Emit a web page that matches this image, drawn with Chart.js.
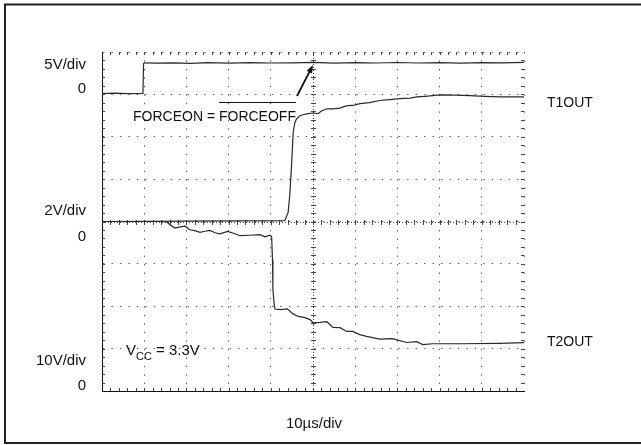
<!DOCTYPE html>
<html>
<head>
<meta charset="utf-8">
<script src="https://cdn.jsdelivr.net/npm/chart.js@4"></script>
<style>
  body { margin: 0; background: #fff; }
  canvas { display: block; }
</style>
</head>
<body>
<canvas id="scope" width="641" height="445"></canvas>
<script>
// time axis in microseconds, 10us per division
const timeForce = [0, 3, 6, 9.7, 9.85, 10.2, 13, 17, 21, 25, 30, 35, 40, 45, 50, 55, 60, 65, 70, 75, 80, 85, 90, 95, 100];
const forceOn   = [0.1, 0.15, 0.1, 0.12, 3.62, 3.72, 3.68, 3.72, 3.66, 3.74, 3.68, 3.75, 3.7, 3.72, 3.78, 3.68, 3.74, 3.7, 3.76, 3.7, 3.74, 3.68, 3.75, 3.72, 3.78];

const timeT1 = [0, 20, 43.3, 44.1, 44.5, 44.9, 45.3, 45.7, 46.1, 46.9, 47.6, 48.8, 50, 51.2, 52.1, 53.3, 54.7, 56.3, 57.9, 59.8, 61.1, 63.4, 65.8, 68.2, 70.6, 73, 74.6, 76.5, 80.1, 83.6, 87.1, 90.7, 94.2, 100];
const t1Out  = [0, 0.02, 0.04, 0.42, 1.26, 2.59, 4.19, 4.66, 4.85, 4.99, 5.04, 5.09, 5.12, 5.09, 5.23, 5.32, 5.32, 5.35, 5.46, 5.49, 5.56, 5.61, 5.71, 5.75, 5.8, 5.82, 5.88, 5.91, 5.98, 5.96, 5.94, 5.91, 5.88, 5.88];

const timeT2 = [0, 13.7, 15.3, 16.1, 17.3, 18.5, 19.7, 20.8, 22, 23.2, 24.4, 25.6, 26.8, 27.9, 29.8, 31.5, 32.7, 35, 37.4, 38.6, 39.8, 40.2, 40.4, 40.5, 40.8, 41, 42.2, 43.9, 45.3, 46.5, 48.1, 49.3, 50, 51.7, 53.3, 54.7, 56.4, 58, 59.4, 61.1, 62.7, 65.8, 68.8, 72.2, 74.6, 76, 78.4, 84.8, 94.2, 100];
const t2Out  = [0, 0, -0.01, -0.15, -0.31, -0.25, -0.22, -0.39, -0.43, -0.51, -0.46, -0.42, -0.53, -0.58, -0.47, -0.58, -0.67, -0.65, -0.62, -0.72, -0.65, -0.72, -1.8, -3.22, -3.93, -4.13, -4.16, -4.12, -4.36, -4.48, -4.54, -4.63, -4.78, -4.76, -4.73, -5, -5.01, -5.19, -5.19, -5.34, -5.42, -5.55, -5.53, -5.71, -5.67, -5.81, -5.77, -5.77, -5.75, -5.72];

const leftLabels = [
  ['5V/div', 65], ['0', 89],
  ['2V/div', 210.5], ['0', 237],
  ['10V/div', 360.5], ['0', 386]
];

const pts = (xs, ys) => xs.map((x, i) => ({x: x, y: ys[i]}));

const ink = '#111';
const font = '15px "Liberation Sans", Arial, sans-serif';
const capsFont = '14px "Liberation Sans", Arial, sans-serif';

const scopeDecor = {
  id: 'scopeDecor',
  beforeDatasetsDraw(chart) {
    const {ctx, chartArea: a, scales} = chart;
    const xs = scales.x, ys = scales.y;
    ctx.save();
    ctx.strokeStyle = '#444';
    ctx.lineWidth = 1;
    // dense centre lines
    ctx.setLineDash([1, 2]);
    const cx = Math.round(xs.getPixelForValue(50)) + 0.5;
    const cy = Math.round(ys.getPixelForValue(4)) + 0.5;
    ctx.beginPath();
    ctx.moveTo(cx, a.top); ctx.lineTo(cx, a.bottom);
    ctx.moveTo(a.left, cy); ctx.lineTo(a.right, cy);
    ctx.stroke();
    ctx.setLineDash([]);
    // minor ticks, 5 per division
    ctx.beginPath();
    for (let i = 1; i < 50; i++) {
      const px = Math.round(xs.getPixelForValue(i * 2)) + 0.5;
      ctx.moveTo(px, a.top); ctx.lineTo(px, a.top + 3);
      ctx.moveTo(px, a.bottom); ctx.lineTo(px, a.bottom - 3);
      ctx.moveTo(px, cy - 2.5); ctx.lineTo(px, cy + 2.5);
    }
    for (let j = 1; j < 40; j++) {
      const py = Math.round(ys.getPixelForValue(j * 0.2)) + 0.5;
      ctx.moveTo(a.left, py); ctx.lineTo(a.left + 3, py);
      ctx.moveTo(a.right, py); ctx.lineTo(a.right - 3, py);
      ctx.moveTo(cx - 2.5, py); ctx.lineTo(cx + 2.5, py);
    }
    ctx.stroke();
    ctx.restore();
  },
  afterDraw(chart) {
    const {ctx, chartArea: a, scales} = chart;
    ctx.save();
    // page frame
    ctx.strokeStyle = '#222';
    ctx.lineWidth = 2;
    ctx.beginPath();
    ctx.moveTo(641, 4.5); ctx.lineTo(5, 4.5); ctx.lineTo(5, 443); ctx.lineTo(641, 443);
    ctx.stroke();

    ctx.fillStyle = ink;
    ctx.font = font;
    ctx.textBaseline = 'middle';
    ctx.textAlign = 'right';
    leftLabels.forEach(([t, y]) => ctx.fillText(t, 86, y));

    ctx.textAlign = 'center';
    ctx.fillText('10\u00b5s/div', 314, 424);

    ctx.font = capsFont;
    ctx.textAlign = 'left';
    ctx.fillText('T1OUT', 547, 103);
    ctx.fillText('T2OUT', 547, 342.5);

    // FORCEON = FORCEOFF (overbar)
    const pre = 'FORCEON = ';
    const x0 = 133, ty = 117;
    ctx.fillText(pre, x0, ty);
    const xb = x0 + ctx.measureText(pre).width;
    ctx.fillText('FORCEOFF', xb, ty);
    const wb = ctx.measureText('FORCEOFF').width;
    ctx.strokeStyle = ink;
    ctx.lineWidth = 1;
    ctx.beginPath();
    ctx.moveTo(xb, 102.5); ctx.lineTo(xb + wb, 102.5);
    ctx.stroke();

    // arrow to the FORCEON trace
    const tipX = scales.x.getPixelForValue(50);
    const tipY = scales.yF.getPixelForValue(3.7) + 2;
    const tailX = 297, tailY = 96;
    const ang = Math.atan2(tipY - tailY, tipX - tailX);
    ctx.lineWidth = 1.8;
    ctx.beginPath();
    ctx.moveTo(tailX, tailY);
    ctx.lineTo(tipX - 5 * Math.cos(ang), tipY - 5 * Math.sin(ang));
    ctx.stroke();
    ctx.beginPath();
    ctx.moveTo(tipX, tipY);
    ctx.lineTo(tipX - 8 * Math.cos(ang) + 3 * Math.sin(ang), tipY - 8 * Math.sin(ang) - 3 * Math.cos(ang));
    ctx.lineTo(tipX - 8 * Math.cos(ang) - 3 * Math.sin(ang), tipY - 8 * Math.sin(ang) + 3 * Math.cos(ang));
    ctx.closePath();
    ctx.fill();

    // VCC = 3.3V
    ctx.font = font;
    let vx = 126;
    ctx.fillText('V', vx, 350.5);
    vx += ctx.measureText('V').width;
    ctx.font = '11px "Liberation Sans", Arial, sans-serif';
    ctx.fillText('CC', vx, 357);
    vx += ctx.measureText('CC').width;
    ctx.font = font;
    ctx.fillText(' = 3.3V', vx, 350.5);
    ctx.restore();
  }
};

const traceStyle = {
  borderColor: '#2a2a2a',
  borderWidth: 1.2,
  pointRadius: 0,
  tension: 0,
  fill: false
};

new Chart(document.getElementById('scope'), {
  type: 'line',
  data: {
    datasets: [
      Object.assign({label: 'FORCEON', data: pts(timeForce, forceOn), yAxisID: 'yF'}, traceStyle),
      Object.assign({label: 'T1OUT', data: pts(timeT1, t1Out), yAxisID: 'yO'}, traceStyle),
      Object.assign({label: 'T2OUT', data: pts(timeT2, t2Out), yAxisID: 'yO'}, traceStyle)
    ]
  },
  options: {
    responsive: false,
    animation: false,
    layout: {padding: {left: 102, top: 52, right: 117, bottom: 54}},
    plugins: {legend: {display: false}, tooltip: {enabled: false}},
    scales: {
      x: {
        type: 'linear', min: 0, max: 100,
        ticks: {display: false, stepSize: 10},
        grid: {color: '#555', lineWidth: 1, drawTicks: false},
        border: {display: true, color: '#111', width: 1, dash: [1.4, 7.08]}
      },
      y: {
        min: 0, max: 8,
        ticks: {display: false, stepSize: 1},
        grid: {color: '#555', lineWidth: 1, drawTicks: false},
        border: {display: true, color: '#111', width: 1, dash: [1.4, 7.05]}
      },
      yF: {display: false, min: -35, max: 5},
      yO: {display: false, min: -8, max: 8}
    }
  },
  plugins: [scopeDecor]
});
</script>
</body>
</html>
